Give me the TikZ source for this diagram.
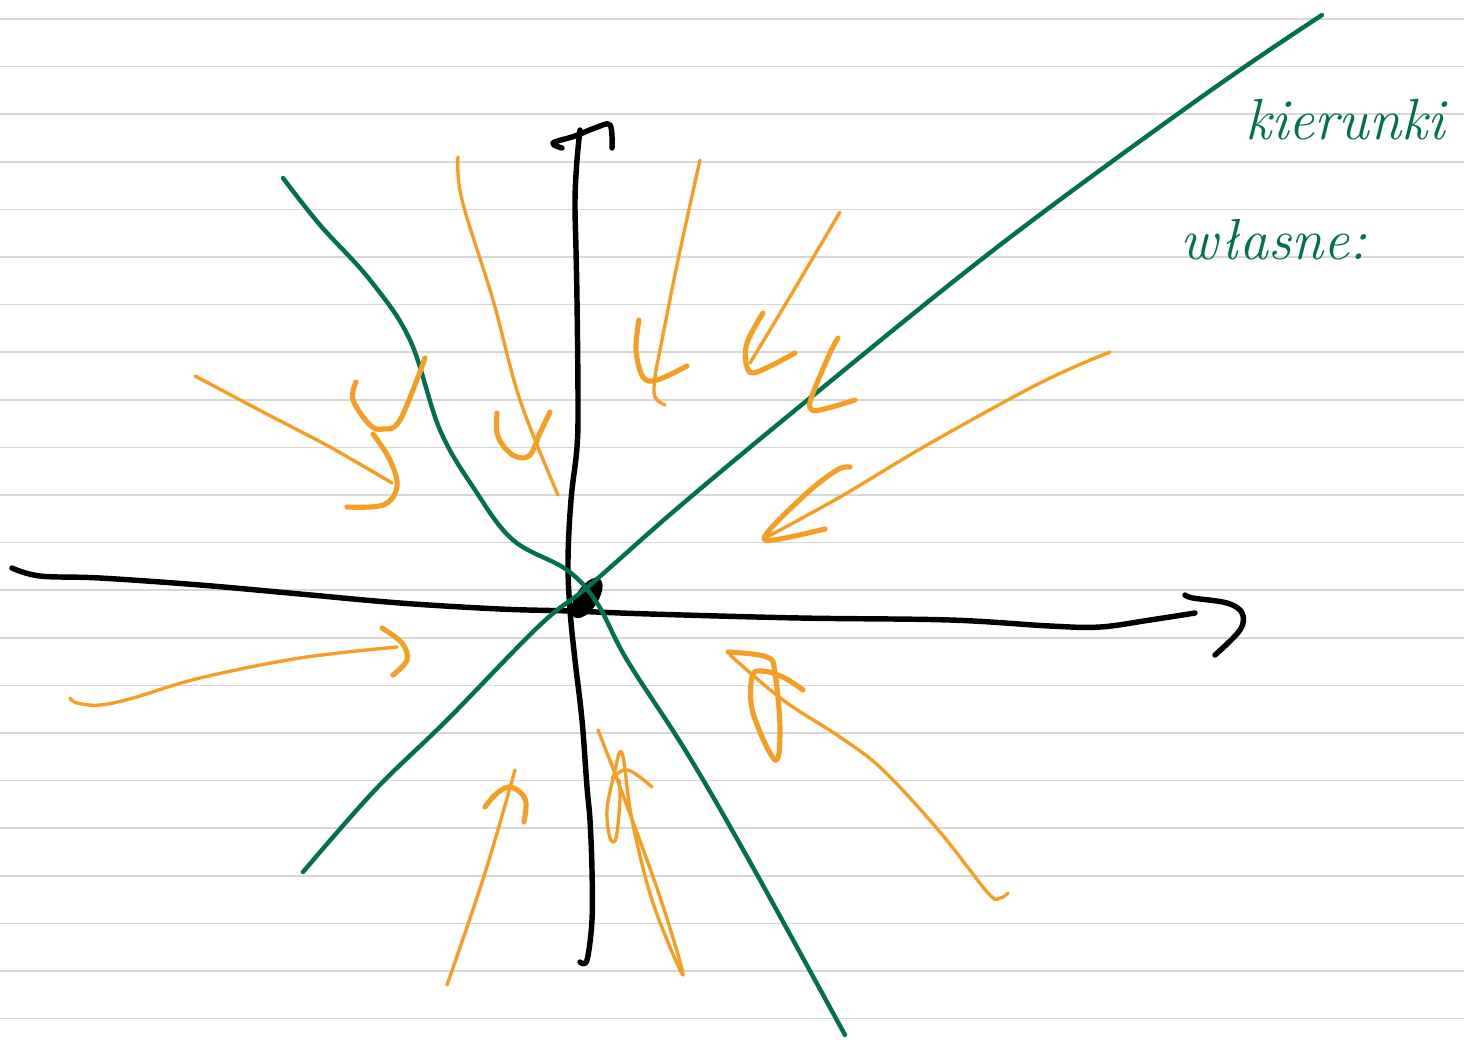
\documentclass[tikz,border=0pt]{standalone}
\usepackage{fontspec}
\usepackage{tikz}
\usetikzlibrary{calc}

\definecolor{penGreen}{RGB}{0,112,80}
\definecolor{penOrange}{RGB}{245,158,35}
\definecolor{ruleGray}{RGB}{216,216,216}

\begin{document}
\begin{tikzpicture}[x=0.02cm, y=-0.02cm,
    ruling/.style={ruleGray, line width=0.9pt},
    axisline/.style={black, line width=3.1pt, line cap=round, line join=round},
    eigenline/.style={penGreen, line width=2.5pt, line cap=round, line join=round},
    flowline/.style={penOrange, line width=1.9pt, line cap=round, line join=round},
    flowhead/.style={penOrange, line width=2.9pt, line cap=round, line join=round},
    notetext/.style={penGreen, font=\fontsize{33}{40}\selectfont\itshape, inner sep=0pt}]
\useasboundingbox (0,0) rectangle (1464,1039);

% lined paper
\foreach \k in {0,...,21}
    \draw[ruling] (0,{19+47.6*\k}) -- (1464,{19+47.6*\k});

% axes
\draw[axisline] plot[smooth, tension=0.6] coordinates {(12,568) (40,576) (100,578) (200,585) (300,594) (400,603) (500,609) (570,611) (650,614) (800,618) (950,620) (1050,626) (1100,627) (1150,620) (1195,613)};
\draw[axisline] plot[smooth, tension=0.6] coordinates {(1185,595) (1193,598) (1227,603) (1242,613) (1240,630) (1215,655)};
\draw[axisline] plot[smooth, tension=0.6] coordinates {(580,962) (587,960) (592,920) (592,870) (590,820) (587,787) (582,720) (575,660) (570,610) (568,560) (571,500) (577,447) (578,400) (577,300) (576,250) (575,200) (577,160) (580,130)};
\draw[axisline] plot[smooth, tension=0.6] coordinates {(562,148) (553,143) (575,136) (595,128) (610,125) (612,148)};
\fill[rotate around={57:(587,598)}] (587,598) ellipse [x radius=23, y radius=11];

% eigendirections
\draw[eigenline] plot[smooth, tension=0.6] coordinates {(303,872) (375,790) (447,720) (540,625) (590,585) (680,506) (810,398) (1000,245) (1200,98) (1322,15)};
\draw[eigenline] plot[smooth, tension=0.6] coordinates {(283,178) (320,225) (370,280) (410,340) (440,430) (475,490) (513,540) (567,570) (597,603) (627,660) (687,753) (750,862) (845,1035)};

% trajectories
\draw[flowline] plot[smooth, tension=0.6] coordinates {(458,157) (462,200) (493,300) (520,400) (558,495)};
\draw[flowhead] plot[smooth, tension=0.6] coordinates {(497,413) (497,433) (505,448) (517,457) (530,455) (540,433) (550,412)};
\draw[flowline] plot[smooth, tension=0.6] coordinates {(700,160) (678,260) (662,340) (655,377) (655,397) (665,405)};
\draw[flowhead] plot[smooth, tension=0.6] coordinates {(639,320) (636,350) (643,377) (657,380) (687,366)};
\draw[flowline] plot[smooth, tension=0.6] coordinates {(840,212) (788,300) (750,363)};
\draw[flowhead] plot[smooth, tension=0.6] coordinates {(763,313) (747,343) (747,367) (757,372) (795,353)};
\draw[flowhead] plot[smooth, tension=0.6] coordinates {(838,338) (830,353) (813,393) (810,408) (820,410) (855,400)};
\draw[flowline] plot[smooth, tension=0.6] coordinates {(1110,352) (1040,383) (927,445) (840,497) (767,537)};
\draw[flowhead] plot[smooth, tension=0.6] coordinates {(850,467) (837,470) (807,493) (767,533) (773,540) (825,529)};
\draw[flowline] plot[smooth, tension=0.6] coordinates {(195,376) (263,412) (330,447) (392,483)};
\draw[flowhead] plot[smooth, tension=0.6] coordinates {(373,434) (390,460) (397,487) (383,505) (347,507)};
\draw[flowhead] plot[smooth, tension=0.6] coordinates {(356,382) (353,400) (370,425) (383,429) (400,420) (425,358)};
\draw[flowline] plot[smooth, tension=0.6] coordinates {(70,698) (77,703) (100,705) (133,698) (200,678) (300,658) (397,647)};
\draw[flowhead] plot[smooth, tension=0.6] coordinates {(382,628) (402,643) (407,660) (393,675)};
\draw[flowline] plot[smooth, tension=0.6] coordinates {(447,985) (485,873) (515,770)};
\draw[flowhead] plot[smooth, tension=0.6] coordinates {(485,807) (495,795) (508,787) (520,792) (526,803) (524,822)};
\draw[flowline] plot[smooth, tension=0.6] coordinates {(598,730) (620,787) (660,897) (683,975) (653,903) (632,820) (622,753) (614,775) (607,810) (610,838) (616,838) (620,800) (619,780)};
\draw[flowline] plot[smooth, tension=0.6] coordinates {(612,778) (628,770) (652,787)};
\draw[flowline] plot[smooth, tension=0.6] coordinates {(1008,893) (1000,898) (988,893) (940,832) (883,770) (840,737) (783,700) (730,655)};
\draw[flowhead] plot[smooth, tension=0.6] coordinates {(728,652) (767,657) (775,673) (780,730) (775,760) (753,713) (752,677) (762,671) (783,677) (803,690)};

% note
\node[notetext] (kier) at (1345,120) {kierunki};
\node[notetext, anchor=west] (wlas) at (1180,240) {własne:};
\end{tikzpicture}
\end{document}
